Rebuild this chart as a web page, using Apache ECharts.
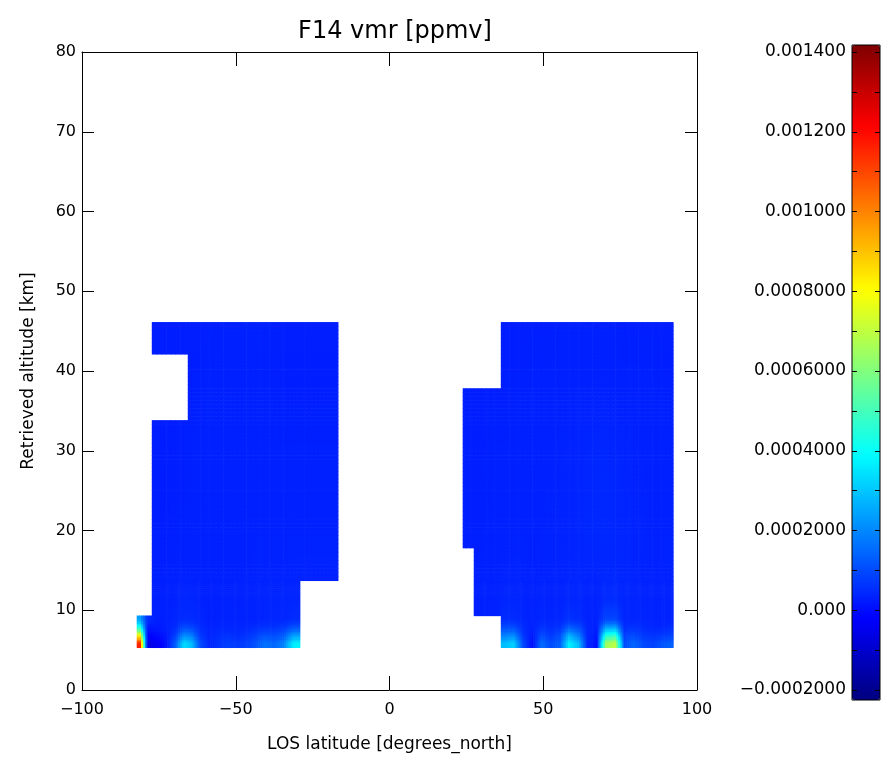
<!DOCTYPE html>
<html><head><meta charset="utf-8">
<script src="https://cdn.jsdelivr.net/npm/echarts@6/dist/echarts.min.js"></script>
<style>html,body{margin:0;padding:0;background:#fff}#c{width:886px;height:764px}</style>
</head><body><div id="c"></div>
<script>
// ---- data (vmr values in units of 1e-6 ppmv) ----
const titleText = 'F14 vmr [ppmv]';
const xName = 'LOS latitude [degrees_north]';
const yName = 'Retrieved altitude [km]';
const altEdges = [5.3, 6.3, 7.3, 8.3, 9.3, 13.7, 17.8, 25, 33.8, 37.8, 42.1, 46.1];
const latEdgesSouth = [-82.1, -80, -77.2, -74, -71, -68, -65.5, -63, -60, -57, -54, -51, -48, -45, -42, -39, -36, -33, -29.1, -24.6, -16.7];
const latEdgesNorth = [23.9, 27.5, 30, 33, 36.3, 39, 42, 45, 48, 51, 54, 57, 60, 63, 66, 69, 72, 75, 78, 81, 84, 87, 90, 92.3];
const vmrSouth = [
  [1150, -40, -20, 30, 150, 350, 300, 120, 60, 80, 100, 90, 100, 130, 180, 160, 200, 380, null, null],
  [800, 0, 20, 40, 100, 220, 200, 90, 60, 70, 80, 70, 80, 100, 130, 120, 140, 250, null, null],
  [450, 40, 40, 50, 70, 120, 110, 70, 55, 60, 60, 60, 60, 70, 80, 80, 90, 130, null, null],
  [250, 70, 50, 50, 60, 70, 70, 60, 50, 55, 55, 55, 55, 55, 60, 60, 60, 70, null, null],
  [null, null, 50, 50, 55, 60, 58, 55, 50, 52, 55, 54, 55, 56, 58, 58, 58, 60, null, null],
  [null, null, 48, 48, 50, 52, 52, 50, 50, 50, 52, 52, 52, 54, 54, 54, 54, 55, 55, 55],
  [null, null, 46, 46, 48, 50, 50, 50, 50, 50, 50, 50, 50, 52, 52, 52, 52, 52, 52, 52],
  [null, null, 45, 45, 46, 48, 50, 52, 52, 52, 50, 50, 50, 50, 50, 50, 50, 50, 50, 50],
  [null, null, null, null, null, null, 48, 50, 52, 52, 52, 50, 50, 50, 50, 50, 48, 48, 48, 48],
  [null, null, null, null, null, null, 48, 48, 50, 50, 50, 50, 50, 50, 50, 48, 48, 48, 48, 48],
  [null, null, 46, 46, 46, 46, 48, 48, 48, 50, 50, 50, 52, 52, 50, 50, 48, 48, 48, 48]
];
const vmrNorth = [
  [null, null, null, null, 300, 330, 120, 20, 170, 120, 150, 380, 300, 60, 20, 650, 700, 120, 160, 120, 100, 130, 150],
  [null, null, null, null, 200, 220, 90, 40, 120, 90, 120, 280, 200, 60, 40, 450, 480, 100, 120, 90, 80, 90, 100],
  [null, null, null, null, 120, 120, 70, 50, 80, 70, 80, 150, 120, 60, 50, 250, 260, 70, 80, 70, 60, 60, 70],
  [null, null, null, null, 70, 70, 60, 55, 60, 60, 60, 80, 70, 55, 55, 110, 110, 60, 60, 60, 55, 55, 55],
  [null, 50, 52, 54, 58, 60, 56, 54, 56, 55, 56, 60, 60, 56, 55, 66, 66, 58, 58, 56, 55, 55, 55],
  [null, 50, 50, 52, 54, 55, 54, 52, 54, 54, 55, 56, 58, 58, 58, 60, 60, 58, 56, 55, 54, 54, 54],
  [48, 48, 50, 50, 52, 52, 52, 52, 52, 54, 55, 56, 58, 60, 62, 62, 60, 58, 56, 54, 52, 52, 52],
  [48, 48, 48, 50, 50, 50, 50, 50, 52, 52, 54, 55, 56, 58, 60, 60, 58, 56, 54, 52, 52, 50, 50],
  [46, 46, 48, 48, 48, 50, 50, 50, 50, 50, 52, 52, 54, 54, 55, 55, 54, 52, 52, 50, 50, 50, 50],
  [null, null, null, null, 48, 48, 48, 50, 50, 50, 50, 50, 52, 52, 52, 52, 50, 50, 50, 50, 50, 48, 48],
  [null, null, null, null, 46, 46, 48, 48, 48, 48, 50, 50, 50, 50, 50, 50, 50, 48, 48, 48, 48, 48, 48]
];
const cbarMin = -200, cbarMax = 1400, cbarStep = 200;
const cbarLabels = ['\u22120.0002000', '0.000', '0.0002000', '0.0004000', '0.0006000', '0.0008000', '0.001000', '0.001200', '0.001400'];
const jet = ['#00007f', '#0000ff', '#007fff', '#00ffff', '#7fff7f', '#ffff00', '#ff7f00', '#ff0000', '#7f0000'];

// ---- build cells ----
const blocks = [{ lat: latEdgesSouth, mat: vmrSouth }, { lat: latEdgesNorth, mat: vmrNorth }];
const cellData = [];
blocks.forEach((b, bi) => b.mat.forEach((row, r) => row.forEach((v, c) => {
  if (v !== null) cellData.push([b.lat[c], b.lat[c + 1], altEdges[r], altEdges[r + 1], v, bi, r, c]);
})));

function cellVal(mat, r, c) {
  if (r < 0 || r >= mat.length) return null;
  const row = mat[r];
  if (c < 0 || c >= row.length) return null;
  return row[c];
}
// smooth shading inside a cell toward its neighbours (rendering only)
function shade(b, r, c, fx, fy) {
  const mat = b.mat, latE = b.lat;
  const v = mat[r][c];
  const w = latE[c + 1] - latE[c], h = altEdges[r + 1] - altEdges[r];
  const cn = c + (fx < 0.5 ? -1 : 1), rn = r + (fy < 0.5 ? -1 : 1);
  const vx = cellVal(mat, r, cn), vy = cellVal(mat, rn, c);
  let vxy = cellVal(mat, rn, cn);
  let tx = 0, ty = 0;
  if (vx !== null) { const wn = latE[cn + 1] - latE[cn]; tx = Math.abs(fx - 0.5) * w / ((w + wn) / 2); }
  if (vy !== null) { const hn = altEdges[rn + 1] - altEdges[rn]; ty = Math.abs(fy - 0.5) * h / ((h + hn) / 2); }
  const ax = vx === null ? v : vx, ay = vy === null ? v : vy;
  if (vxy === null) vxy = (ax + ay) / 2;
  return v * (1 - tx) * (1 - ty) + ax * tx * (1 - ty) + ay * (1 - tx) * ty + vxy * tx * ty;
}
function colorOf(v) {
  const t = Math.max(0, Math.min(1, (v - cbarMin) / (cbarMax - cbarMin)));
  return echarts.color.lerp(t, jet);
}

const FONT = 'DejaVu Sans';
const minus = v => String(v).replace('-', '\u2212');
const blk = { color: '#000', width: 1 };

const chart = echarts.init(document.getElementById('c'), null, { renderer: 'canvas' });
chart.setOption({
  animation: false,
  backgroundColor: '#fff',
  textStyle: { fontFamily: FONT, color: '#000' },
  title: {
    text: titleText, left: 390, top: 15, textAlign: 'center',
    textStyle: { fontFamily: FONT, fontSize: 24, fontWeight: 'normal', color: '#000' }
  },
  grid: [
    { left: 82, top: 52, width: 615, height: 638, containLabel: false },
    { left: 852, top: 45, width: 28, height: 655, show: true, borderColor: '#000', borderWidth: 1, backgroundColor: 'transparent', z: 10 },
    { left: 852, top: 52, width: 28, height: 638 }
  ],
  xAxis: [
    {
      type: 'value', gridIndex: 0, min: -100, max: 100, interval: 50, position: 'bottom',
      axisLine: { show: true, onZero: false, lineStyle: blk },
      axisTick: { show: true, inside: true, length: 14, lineStyle: blk },
      axisLabel: { color: '#000', fontSize: 16, fontFamily: FONT, margin: 12, formatter: v => minus(v) },
      splitLine: { show: false },
      name: xName, nameLocation: 'middle', nameGap: 46,
      nameTextStyle: { fontFamily: FONT, fontSize: 17, color: '#000' }
    },
    {
      type: 'value', gridIndex: 0, min: -100, max: 100, interval: 50, position: 'top',
      axisLine: { show: true, onZero: false, lineStyle: blk },
      axisTick: { show: true, inside: true, length: 14, lineStyle: blk },
      axisLabel: { show: false }, splitLine: { show: false }
    },
    { type: 'value', gridIndex: 1, show: false, min: 0, max: 1 },
    { type: 'value', gridIndex: 2, show: false, min: 0, max: 1 }
  ],
  yAxis: [
    {
      type: 'value', gridIndex: 0, min: 0, max: 80, interval: 10, position: 'left',
      axisLine: { show: true, onZero: false, lineStyle: blk },
      axisTick: { show: true, inside: true, length: 12, lineStyle: blk },
      axisLabel: { color: '#000', fontSize: 16, fontFamily: FONT, margin: 6 },
      splitLine: { show: false },
      name: yName, nameLocation: 'middle', nameGap: 45,
      nameTextStyle: { fontFamily: FONT, fontSize: 17, color: '#000' }
    },
    {
      type: 'value', gridIndex: 0, min: 0, max: 80, interval: 10, position: 'right',
      axisLine: { show: true, onZero: false, lineStyle: blk },
      axisTick: { show: true, inside: true, length: 12, lineStyle: blk },
      axisLabel: { show: false }, splitLine: { show: false }
    },
    { type: 'value', gridIndex: 1, show: false, min: 0, max: 1 },
    {
      type: 'value', gridIndex: 2, min: cbarMin, max: cbarMax, interval: cbarStep, position: 'left', z: 20,
      axisLine: { show: false },
      axisTick: { show: true, inside: true, length: 5, lineStyle: blk },
      minorTick: { show: true, splitNumber: 2, length: 5, lineStyle: blk },
      axisLabel: { color: '#000', fontSize: 17, fontFamily: FONT, margin: 6,
        formatter: v => cbarLabels[Math.round((v - cbarMin) / cbarStep)] },
      splitLine: { show: false }
    },
    {
      type: 'value', gridIndex: 2, min: cbarMin, max: cbarMax, interval: cbarStep, position: 'right', z: 20,
      axisLine: { show: false },
      axisTick: { show: true, inside: true, length: 5, lineStyle: blk },
      minorTick: { show: true, splitNumber: 2, length: 5, lineStyle: blk },
      axisLabel: { show: false }, splitLine: { show: false }
    }
  ],
  visualMap: {
    type: 'continuous', min: cbarMin, max: cbarMax, dimension: 4, seriesIndex: 0,
    inRange: { color: jet }, left: 852, top: 45, itemWidth: 28, itemHeight: 655,
    calculable: false, showLabel: false, text: null, padding: 0, orient: 'vertical', hoverLink: false
  },
  series: [{
    type: 'custom', xAxisIndex: 0, yAxisIndex: 0, data: cellData,
    encode: { x: [0, 1], y: [2, 3] },
    renderItem: (params, api) => {
      const p0 = api.coord([api.value(0), api.value(3)]);
      const p1 = api.coord([api.value(1), api.value(2)]);
      const b = blocks[api.value(5)], r = api.value(6), c = api.value(7);
      const W = p1[0] - p0[0], H = p1[1] - p0[1];
      const step = r <= 4 ? 2 : 4;
      const nx = Math.max(1, Math.round(W / step)), ny = Math.max(1, Math.round(H / step));
      const children = [];
      for (let i = 0; i < nx; i++) {
        for (let j = 0; j < ny; j++) {
          const fx = (i + 0.5) / nx, fy = 1 - (j + 0.5) / ny; // fy: 0 bottom, 1 top
          const v = shade(b, r, c, fx, fy);
          const x = p0[0] + W * i / nx, y = p0[1] + H * j / ny;
          children.push({ type: 'rect', silent: true,
            shape: { x: x - 0.3, y: y - 0.3, width: W / nx + 0.6, height: H / ny + 0.6 },
            style: { fill: colorOf(v) } });
        }
      }
      return { type: 'group', children };
    }
  }]
});
</script>
</body></html>
